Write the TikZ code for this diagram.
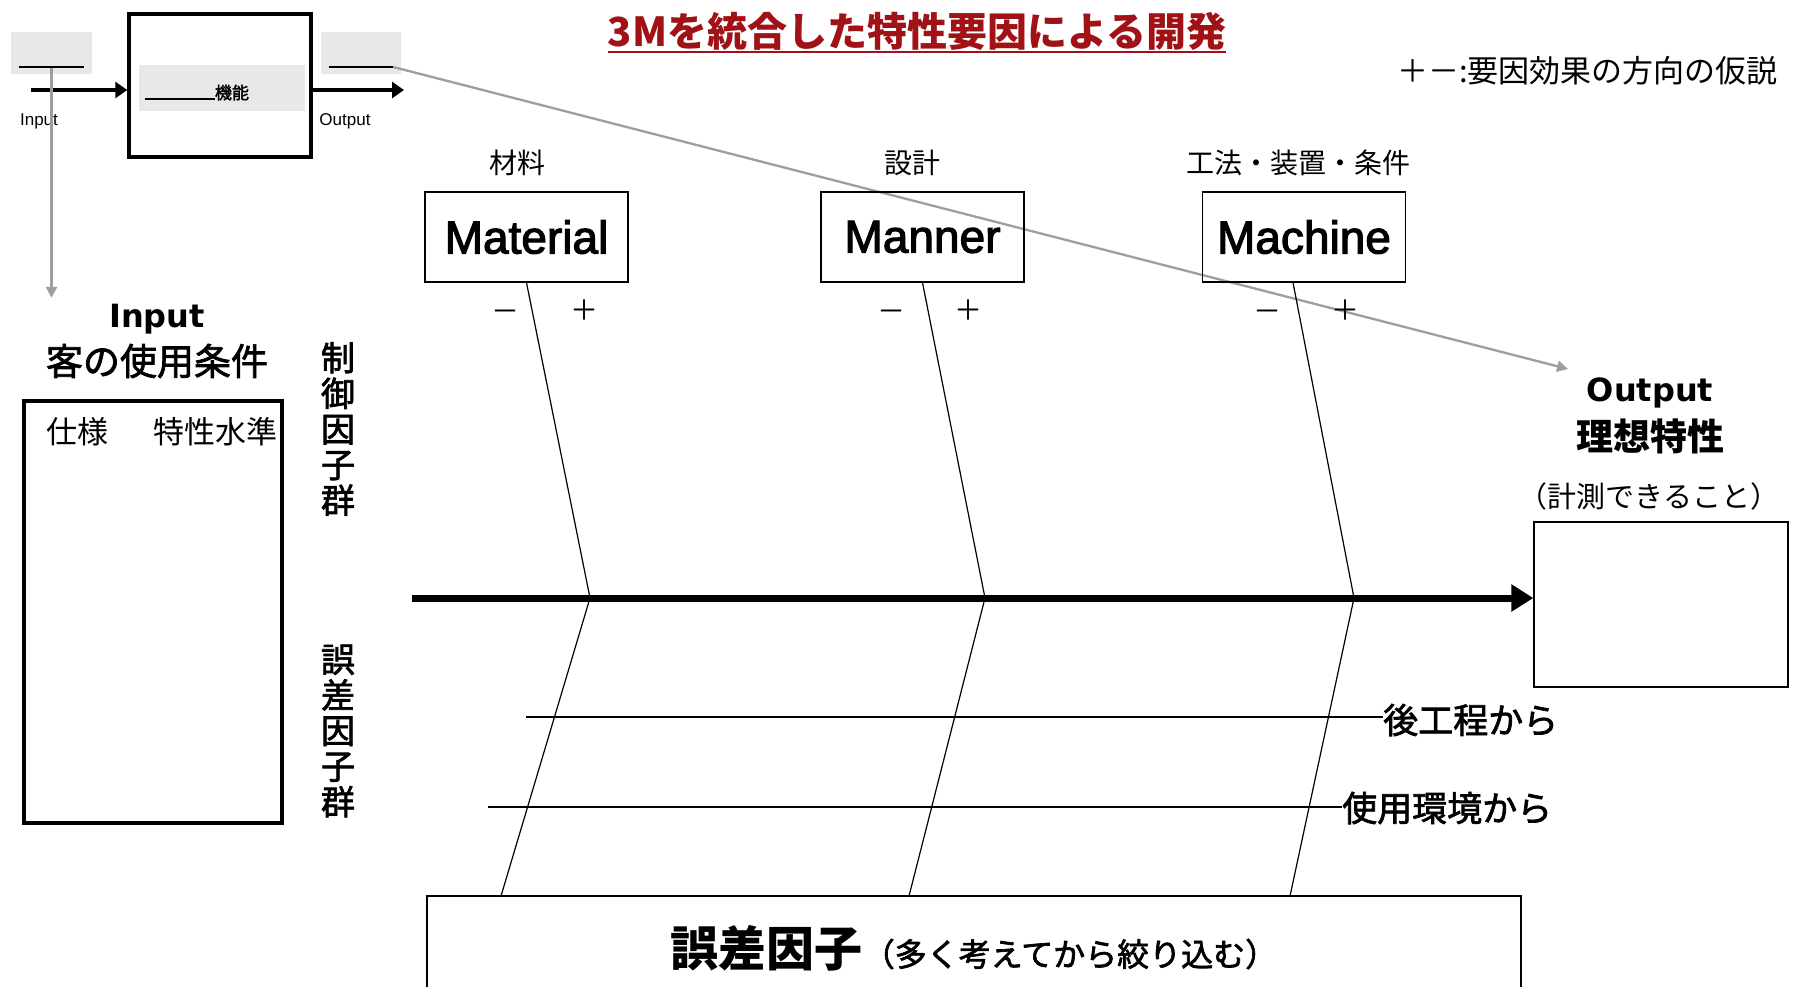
\documentclass[tikz,border=0pt]{standalone}
\usepackage{fontspec}
\setmainfont{Noto Sans CJK JP}
\newfontfamily\jpmid{Noto Sans CJK JP}[FakeBold=2]
\newfontfamily\arialf{Liberation Sans}
\newfontfamily\arialm{Liberation Sans}[FakeBold=2.5]
\newfontfamily\dejaf{DejaVu Sans}
\usetikzlibrary{arrows.meta}
\newcommand\myfs[1]{\fontsize{#1pt}{#1pt}\selectfont}
\definecolor{titlered}{RGB}{160,18,22}
\definecolor{linegray}{RGB}{158,158,158}
\definecolor{boxgray}{RGB}{232,232,232}
\tikzset{
  graybox/.style={fill=boxgray, draw=none, inner sep=0pt},
  txt/.style={inner sep=0pt},
  catbox/.style={draw, line width=1.3pt, minimum width=203pt, minimum height=90pt, inner sep=0pt, font=\arialm\myfs{46}},
  catlbl/.style={inner sep=0pt, font=\myfs{28}},
  sign/.style={inner sep=0pt, font=\myfs{28}},
  bone/.style={line width=1.2pt},
  blkarrow/.style={line width=4.5pt, -{Triangle[length=12pt,width=16pt]}},
  grayarrow/.style={draw=linegray, line width=2.3pt, -{Triangle[length=11pt,width=11pt]}},
  spine/.style={line width=7pt, -{Triangle[length=22pt,width=26pt]}},
  vtext/.style={inner sep=0pt, align=center, font={\jpmid\fontsize{34pt}{35.6pt}\selectfont}},
}
\begin{document}
\begin{tikzpicture}[x=1pt,y=-1pt]
\clip (0,0) rectangle (1795,986);
\useasboundingbox (0,0) rectangle (1795,986);

% ---- top-left function diagram ----
\node[graybox, minimum width=81pt, minimum height=42pt] (inbox) at (51.5,53) {};
\node[txt] (inline) at (51.5,67) {\rule{64pt}{2.4pt}};
\node[draw, line width=3.5pt, minimum width=182pt, minimum height=143pt] (fbox) at (220,85.5) {};
\node[graybox, minimum width=166pt, minimum height=46pt] (fgray) at (222,88) {};
\node[txt, font=\jpmid\myfs{17}, anchor=base] (ftext) at (197,99) {\rule[-1pt]{70pt}{2.2pt}機能};
\node[graybox, minimum width=80pt, minimum height=42pt] (outbox) at (361,53) {};
\node[txt] (oline) at (361,67) {\rule{64pt}{2.4pt}};
\coordinate (inA) at (31,90);
\coordinate (outA) at (404,90);
\draw[blkarrow] (inA) -- (inA -| fbox.west);
\draw[blkarrow] (outA -| fbox.east) -- (outA);
\node[txt, font=\arialf\myfs{17}] (smin) at (39,121) {Input};
\node[txt, font=\arialf\myfs{17}] (smout) at (345,121) {Output};

% ---- title and legend ----
\node[txt, font=\bfseries\myfs{40}, text=titlered, anchor=base] (title) at (917,46) {3Mを統合した特性要因による開発};
\draw[titlered, line width=2.5pt] ([yshift=-6pt]title.base west) -- ([yshift=-6pt]title.base east);
\node[txt, font=\myfs{31}, anchor=west] (legend) at (1397,71) {＋－:要因効果の方向の仮説};

% ---- input side ----
\node[txt, font=\dejaf\bfseries\myfs{32}] (ilbl) at (157,319) {Input};
\node[txt, font=\jpmid\myfs{37}] (ilbl2) at (157,361) {客の使用条件};
\node[draw, line width=3.5pt, minimum width=258pt, minimum height=422pt] (ibox) at (153,612) {};
\node[txt, font=\myfs{31}] (sp1) at (77.5,432) {仕様};
\node[txt, font=\myfs{31}] (sp2) at (215,432) {特性水準};
\node[vtext] (ctrl) at (338,429) {制\\御\\因\\子\\群};
\node[vtext] (errg) at (338,731) {誤\\差\\因\\子\\群};

% ---- gray connectors ----
\draw[grayarrow, shorten >=6pt] (inline.south) -- (inline.south |- ilbl.north);
\coordinate (otip) at (1568,369);
\draw[grayarrow] (oline.east) -- (otip);

% ---- category boxes ----
\node[catlbl] (c1) at (517,163) {材料};
\node[catlbl] (c2) at (912,163) {設計};
\node[catlbl] (c3) at (1298,163) {工法・装置・条件};
\node[catbox] (mat) at (526.5,237) {Material};
\node[catbox] (man) at (922.5,237) {Manner};
\node[catbox] (mac) at (1304,237) {Machine};
\node[sign] (s1m) at (505,316) {－};
\node[sign] (s1p) at (584,310) {＋};
\node[sign] (s2m) at (891,316) {－};
\node[sign] (s2p) at (968,310) {＋};
\node[sign] (s3m) at (1267,316) {－};
\node[sign] (s3p) at (1345,310) {＋};

% ---- output side ----
\node[txt, font=\dejaf\bfseries\myfs{32}] (olbl) at (1650,393) {Output};
\node[txt, font=\bfseries\myfs{37}] (olbl2) at (1650,436) {理想特性};
\node[txt, font=\myfs{29}] (olbl3) at (1649,496) {（計測できること）};
\node[draw, line width=1.3pt, minimum width=254pt, minimum height=165pt] (obox) at (1661,604.5) {};

% ---- spine ----
\coordinate (spS) at (412,598);
\draw[spine] (spS) -- (spS -| obox.west);

% ---- error factor box ----
\node[draw, line width=1.3pt, minimum width=1094pt, minimum height=104pt, inner sep=0pt] (ebox) at (974,948)
  {{\bfseries\myfs{48}誤差因子}{\jpmid\myfs{32}（多く考えてから絞り込む）}};

% ---- bones ----
\coordinate (j1) at (590,598);
\coordinate (j2) at (985,598);
\coordinate (j3) at (1354,598);
\coordinate (b1) at (501,896);
\coordinate (b2) at (909,896);
\coordinate (b3) at (1290,896);
\draw[bone] (mat.south) -- (j1) -- (b1);
\draw[bone] (man.south) -- (j2) -- (b2);
\draw[bone] ([xshift=-11pt]mac.south) -- (j3) -- (b3);

% ---- noise lines ----
\node[txt, font=\jpmid\myfs{35}, anchor=west] (t1) at (1383,720) {後工程から};
\node[txt, font=\jpmid\myfs{35}, anchor=west] (t2) at (1342,808) {使用環境から};
\coordinate (h1) at (526,717);
\coordinate (h2) at (488,807);
\draw[bone] (h1) -- (h1 -| t1.west);
\draw[bone] (h2) -- (h2 -| t2.west);
\end{tikzpicture}
\end{document}
